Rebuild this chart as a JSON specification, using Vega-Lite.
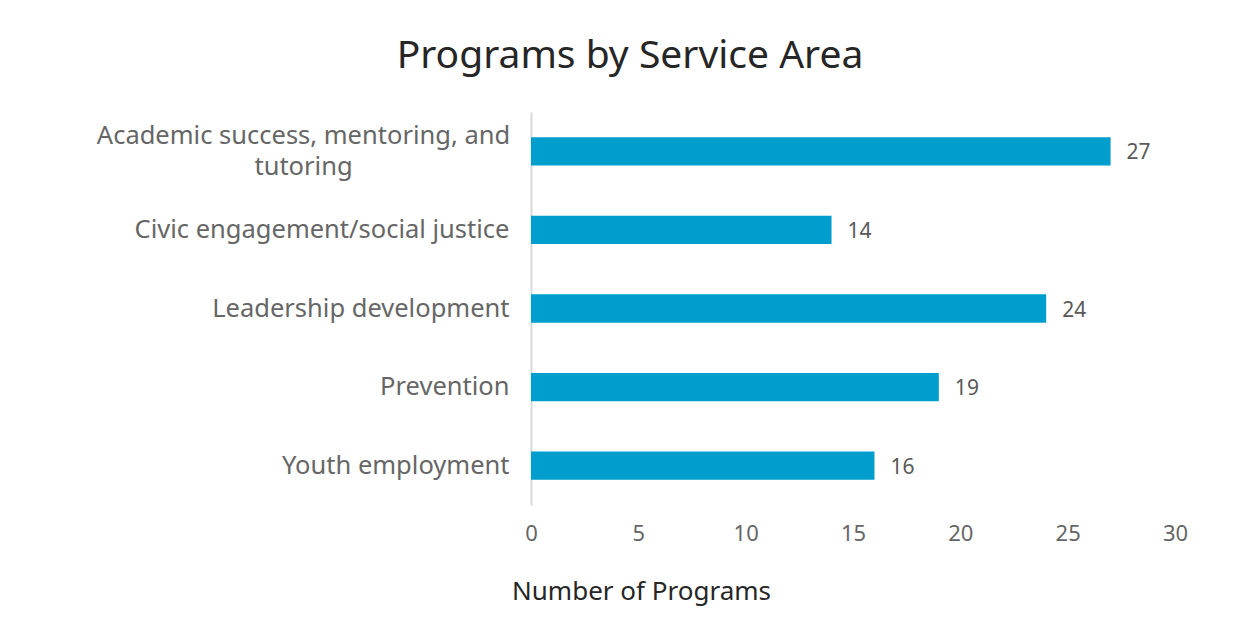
{
  "$schema": "https://vega.github.io/schema/vega-lite/v6.json",
  "width": 644,
  "height": 393,
  "autosize": {"type": "none"},
  "padding": {"left": 531, "top": 112, "right": 73, "bottom": 125},
  "background": "white",
  "config": {"view": {"stroke": null}, "font": "Noto Sans"},
  "title": {
    "text": "Programs by Service Area",
    "frame": "bounds",
    "anchor": "middle",
    "fontSize": 39,
    "fontWeight": "normal",
    "color": "#262626",
    "font": "Noto Sans",
    "offset": 36,
    "dx": -12
  },
  "data": {
    "values": [
      {"area": "Academic success, mentoring, and tutoring", "programs": 27},
      {"area": "Civic engagement/social justice", "programs": 14},
      {"area": "Leadership development", "programs": 24},
      {"area": "Prevention", "programs": 19},
      {"area": "Youth employment", "programs": 16}
    ]
  },
  "encoding": {
    "y": {
      "field": "area",
      "type": "nominal",
      "sort": null,
      "scale": {"paddingInner": 0.64, "paddingOuter": 0.32},
      "axis": {
        "title": null,
        "ticks": false,
        "domainColor": "#D9D9D9",
        "domainWidth": 2,
        "labelFontSize": 25.5,
        "labelColor": "#666666",
        "labelLimit": 520,
        "labelLineHeight": 31,
        "labelAlign": {"condition": {"test": "datum.value == 'Academic success, mentoring, and tutoring'", "value": "center"}, "value": "right"},
        "labelPadding": {"condition": {"test": "datum.value == 'Academic success, mentoring, and tutoring'", "value": 228}, "value": 22},
        "labelOffset": {"condition": {"test": "datum.value == 'Academic success, mentoring, and tutoring'", "value": -15}, "value": 0},
        "labelExpr": "datum.label == 'Academic success, mentoring, and tutoring' ? ['Academic success, mentoring, and', 'tutoring'] : datum.label"
      }
    },
    "x": {
      "field": "programs",
      "type": "quantitative",
      "scale": {"domain": [0, 30]},
      "axis": {
        "title": "Number of Programs",
        "values": [0, 5, 10, 15, 20, 25, 30],
        "grid": false,
        "domain": false,
        "ticks": false,
        "labelFlush": false,
        "labelFontSize": 22,
        "labelColor": "#666666",
        "labelPadding": 18,
        "titleFontSize": 26,
        "titleFontWeight": "normal",
        "titleColor": "#262626",
        "titleX": 110,
        "titleY": 86,
        "titleAlign": "center",
        "titleBaseline": "middle"
      }
    }
  },
  "layer": [
    {"mark": {"type": "bar", "color": "#009ECC"}},
    {
      "mark": {"type": "text", "align": "left", "dx": 16, "dy": 2, "fontSize": 21, "color": "#595959", "baseline": "middle"},
      "encoding": {"text": {"field": "programs", "type": "quantitative"}}
    }
  ]
}
